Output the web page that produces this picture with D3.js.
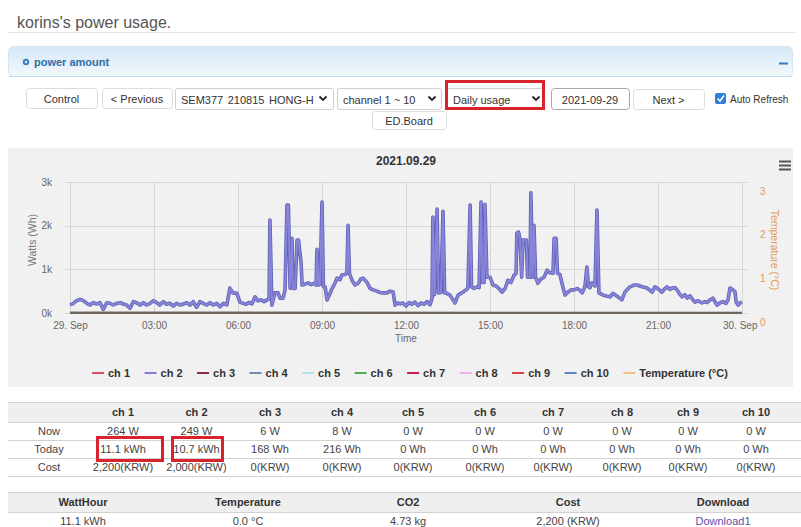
<!DOCTYPE html>
<html><head><meta charset="utf-8">
<script src="https://cdn.jsdelivr.net/npm/d3@7"></script>
<style>
html,body{margin:0;padding:0;background:#fff;}
svg{display:block;font-family:"Liberation Sans",Arial,sans-serif;}
</style></head><body>
<svg id="c" width="801" height="527"></svg>
<script>
// ---------------- data ----------------
const pageTitle = "korins's power usage.";
const panelTitle = "power amount";
const chartTitle = "2021.09.29";
const hourTicks = [0, 3, 6, 9, 12, 15, 18, 21, 24];
const hourTickLabels = ["29. Sep", "03:00", "06:00", "09:00", "12:00", "15:00", "18:00", "21:00", "30. Sep"];
const wattTicks = [0, 1000, 2000, 3000];
const wattTickLabels = ["0k", "1k", "2k", "3k"];
const tempTicks = [0, 1, 2, 3];
const legendNames = ["ch 1", "ch 2", "ch 3", "ch 4", "ch 5", "ch 6", "ch 7", "ch 8", "ch 9", "ch 10", "Temperature (°C)"];
const legendColors = ["#e0505c", "#7f7dd8", "#8b2c45", "#6f8db3", "#b3e2ea", "#4caf50", "#c8185a", "#eeb0ec", "#d9434f", "#5b86c7", "#f3c27e"];
// ch 2 power (hour of day, W)
const ch2Series = [
[0.00,183],[0.12,221],[0.24,282],[0.36,313],[0.48,282],[0.60,221],[0.71,183],[0.83,236],[0.95,206],[1.07,236],[1.19,84],[1.31,236],[1.43,221],[1.55,183],[1.67,221],[1.79,236],[1.90,206],[2.02,183],[2.14,107],[2.26,259],[2.38,236],[2.50,183],[2.62,236],[2.74,183],[2.86,221],[2.98,282],[3.10,236],[3.21,183],[3.33,259],[3.45,200],[3.57,221],[3.69,160],[3.81,221],[3.93,183],[4.05,206],[4.17,236],[4.29,183],[4.40,259],[4.52,130],[4.64,259],[4.76,221],[4.88,183],[5.00,236],[5.12,183],[5.24,221],[5.36,145],[5.48,221],[5.60,183],
[5.71,570],[5.82,460],[5.96,450],[6.07,250],[6.18,220],[6.29,200],[6.39,240],[6.50,210],[6.61,370],[6.71,280],[6.82,300],[6.93,260],[7.04,300],[7.11,330],[7.14,2130],[7.21,180],[7.32,460],[7.43,460],[7.50,340],[7.61,340],[7.68,530],[7.75,2470],[7.80,2470],[7.86,570],[7.93,1710],[7.96,560],[8.04,560],[8.11,1670],[8.16,1670],[8.25,1170],[8.29,640],[8.39,660],[8.50,690],[8.61,650],[8.71,680],[8.79,640],[8.82,1460],[8.88,640],[8.93,660],[9.00,2540],[9.05,600],[9.11,600],[9.18,300],[9.29,450],[9.36,560],[9.46,680],[9.54,800],[9.64,760],[9.71,870],[9.82,880],[9.89,910],[9.93,2010],[9.98,910],[10.07,750],[10.18,640],[10.29,680],[10.39,780],[10.46,800],[10.61,700],[10.71,570],[10.82,530],[10.96,500],[11.07,470],[11.18,460],[11.32,460],[11.43,500],[11.54,480],[11.61,180],[11.71,230],[11.79,210],
[11.89,230],[12.00,160],[12.11,240],[12.21,200],[12.32,250],[12.43,170],[12.54,230],[12.64,200],[12.75,260],[12.86,190],[12.93,340],[12.96,2200],[13.02,420],[13.11,2380],[13.16,460],[13.25,470],[13.32,2330],[13.38,460],[13.46,450],[13.57,410],[13.68,300],[13.75,230],[13.86,410],[13.96,450],[14.04,480],[14.14,530],[14.21,570],[14.29,2470],[14.34,600],[14.43,560],[14.54,600],[14.61,580],[14.68,2540],[14.73,700],[14.79,700],[14.82,2490],[14.89,820],[15.00,820],[15.11,640],[15.21,620],[15.32,560],[15.43,480],[15.54,560],[15.64,750],[15.75,700],[15.86,870],[15.93,900],[15.96,1830],[16.02,1850],[16.07,1700],[16.13,820],[16.18,1670],[16.25,1670],[16.30,1670],[16.34,820],[16.43,820],[16.46,2750],[16.52,820],[16.57,2010],[16.63,820],[16.71,680],[16.82,780],[16.93,820],[17.04,980],[17.14,920],[17.25,910],[17.29,1710],[17.36,1710],[17.41,910],[17.50,880],[17.57,680],[17.68,410],[17.79,480],[17.89,530],[18.00,530],[18.11,560],[18.21,520],[18.29,460],[18.39,600],[18.46,1050],[18.52,600],[18.57,580],[18.64,690],[18.75,620],[18.82,2360],[18.89,460],[19.04,410],[19.14,390],[19.29,370],[19.39,450],[19.50,400],[19.57,370],[19.71,300],[19.82,480],[20.00,600],[20.14,640],[20.25,640],[20.43,600],[20.61,570],[20.71,520],[20.79,480],[20.89,600],[20.96,570],[21.07,520],[21.14,480],[21.25,560],[21.32,600],[21.43,540],[21.50,570],[21.61,580],[21.68,530],[21.79,420],[21.86,370],[21.96,420],[22.04,340],[22.14,390],[22.25,300],[22.32,250],[22.43,280],[22.57,230],[22.68,260],[22.75,240],[22.86,300],[22.96,340],[23.04,250],[23.11,180],[23.21,230],[23.32,260],[23.43,220],[23.50,300],[23.57,570],[23.68,530],[23.75,480],[23.79,250],[23.86,180],[23.93,230],[24.00,250]
];
// near-zero channels (hour, W)
const ch3Series = [[0, 7], [24, 6]];
const ch4Series = [[0, 9], [24, 8]];
const tempSeries = [[0, 0], [24, 0]];

const tableChannels = ["ch 1", "ch 2", "ch 3", "ch 4", "ch 5", "ch 6", "ch 7", "ch 8", "ch 9", "ch 10"];
const rowLabels = ["Now", "Today", "Cost"];
const nowValues = ["264 W", "249 W", "6 W", "8 W", "0 W", "0 W", "0 W", "0 W", "0 W", "0 W"];
const todayValues = ["11.1 kWh", "10.7 kWh", "168 Wh", "216 Wh", "0 Wh", "0 Wh", "0 Wh", "0 Wh", "0 Wh", "0 Wh"];
const costValues = ["2,200(KRW)", "2,000(KRW)", "0(KRW)", "0(KRW)", "0(KRW)", "0(KRW)", "0(KRW)", "0(KRW)", "0(KRW)", "0(KRW)"];
const summaryHeaders = ["WattHour", "Temperature", "CO2", "Cost", "Download"];
const summaryValues = ["11.1 kWh", "0.0 °C", "4.73 kg", "2,200 (KRW)", "Download1"];

// ---------------- drawing ----------------
const svg = d3.select("#c");
const T = (sel, x, y, txt, o = {}) => sel.append("text").attr("x", x).attr("y", y)
  .attr("text-anchor", o.anchor || "start").attr("font-size", o.size || 11)
  .attr("font-weight", o.weight || "normal").attr("fill", o.fill || "#333")
  .attr("dominant-baseline", "central").text(txt);

// page title
T(svg, 17, 22, pageTitle, {size: 16, fill: "#555"});
svg.append("line").attr("x1", 8).attr("x2", 795).attr("y1", 32.5).attr("y2", 32.5).attr("stroke", "#e3e3e3");

// panel header
const defs = svg.append("defs");
const grad = defs.append("linearGradient").attr("id", "hdr").attr("x1", 0).attr("x2", 0).attr("y1", 0).attr("y2", 1);
grad.append("stop").attr("offset", "0%").attr("stop-color", "#d6e8f6");
grad.append("stop").attr("offset", "100%").attr("stop-color", "#f2f8fc");
svg.append("rect").attr("x", 8.5).attr("y", 46.5).attr("width", 784).attr("height", 30).attr("rx", 5)
  .attr("fill", "url(#hdr)").attr("stroke", "#d5e6f3");
svg.append("line").attr("x1", 9).attr("x2", 792).attr("y1", 76.5).attr("y2", 76.5).attr("stroke", "#c2daee");
svg.append("circle").attr("cx", 26).attr("cy", 62).attr("r", 3.2).attr("fill", "#3d7fbf");
svg.append("circle").attr("cx", 26).attr("cy", 62).attr("r", 1.2).attr("fill", "#dbeaf6");
T(svg, 34, 62, panelTitle, {weight: "bold", fill: "#2f6ea8", size: 11});
svg.append("line").attr("x1", 779).attr("x2", 788).attr("y1", 63.5).attr("y2", 63.5).attr("stroke", "#3a78b5").attr("stroke-width", 2);

// controls
const ctrl = svg.append("g");
function button(x1, x2, y1, y2, label, stroke) {
  ctrl.append("rect").attr("x", x1 + 0.5).attr("y", y1 + 0.5).attr("width", x2 - x1).attr("height", y2 - y1)
    .attr("rx", 3).attr("fill", "#fff").attr("stroke", stroke || "#dcdcdc");
  return T(ctrl, (x1 + x2) / 2, (y1 + y2) / 2 + 1, label, {anchor: "middle", fill: "#333"});
}
function selectBox(x1, x2, y1, y2, label, chevX) {
  ctrl.append("rect").attr("x", x1 + 0.5).attr("y", y1 + 0.5).attr("width", x2 - x1).attr("height", y2 - y1)
    .attr("rx", 2).attr("fill", "#fff").attr("stroke", "#cfcfcf");
  const t = T(ctrl, x1 + 6, (y1 + y2) / 2 + 1, label, {fill: "#333"});
  const cy = (y1 + y2) / 2;
  ctrl.append("path").attr("d", `M${chevX - 3.5},${cy - 2} L${chevX},${cy + 1.5} L${chevX + 3.5},${cy - 2}`)
    .attr("fill", "none").attr("stroke", "#222").attr("stroke-width", 1.8);
  return t;
}
button(26, 97, 88, 108, "Control");
button(102, 172, 88, 108, "< Previous");
selectBox(175, 333, 88, 109, "SEM377 210815 HONG-H", 323).attr("word-spacing", "1.5px");
selectBox(337, 441, 88, 109, "channel 1 ~ 10", 432);
selectBox(447, 543, 88, 109, "Daily usage", 536);
ctrl.append("rect").attr("x", 446.5).attr("y", 81.5).attr("width", 97).attr("height", 27)
  .attr("fill", "none").attr("stroke", "#d8232d").attr("stroke-width", 3);
button(551, 629, 88, 109, "2021-09-29", "#a8a8a8");
button(633, 704, 89, 109, "Next >");
ctrl.append("rect").attr("x", 715).attr("y", 93).attr("width", 11).attr("height", 11).attr("rx", 2).attr("fill", "#2d7fd8");
ctrl.append("path").attr("d", "M717.5,98.5 L720,101 L724,95.5").attr("fill", "none").attr("stroke", "#fff").attr("stroke-width", 1.6);
T(ctrl, 730, 99, "Auto Refresh", {fill: "#333", size: 10});
button(372, 446, 111, 129, "ED.Board");

// chart area
svg.append("rect").attr("x", 8).attr("y", 148).attr("width", 785).attr("height", 239).attr("fill", "#f1f1f1");
const x = d3.scaleLinear().domain([0, 24]).range([70, 742]);
const y = d3.scaleLinear().domain([0, 3000]).range([313, 182]);
const yT = d3.scaleLinear().domain([0, 3]).range([313, 182]);

const grid = svg.append("g").attr("stroke", "#d6d6d6").attr("stroke-width", 1);
grid.selectAll("line.h").data(wattTicks).join("line").attr("class", "h")
  .attr("x1", 65).attr("x2", 748).attr("y1", d => Math.round(y(d)) + 0.5).attr("y2", d => Math.round(y(d)) + 0.5);
grid.selectAll("line.v").data(hourTicks).join("line").attr("class", "v")
  .attr("x1", d => Math.round(x(d)) + 0.5).attr("x2", d => Math.round(x(d)) + 0.5).attr("y1", 182).attr("y2", 313);

// x axis
const gx = svg.append("g").attr("transform", "translate(0,313)")
  .call(d3.axisBottom(x).tickValues(hourTicks).tickFormat((d, i) => hourTickLabels[i]).tickSize(0).tickPadding(9));
gx.select(".domain").remove();
gx.selectAll("text").attr("fill", "#666").attr("font-size", 10).attr("font-family", "Liberation Sans, Arial, sans-serif");
gx.selectAll(".tick").filter(d => d === 24).select("text").attr("text-anchor", "end").attr("x", 15);
T(svg, 406, 338, "Time", {anchor: "middle", fill: "#666", size: 10});

// left axis
const gy = svg.append("g").attr("transform", "translate(60,0)")
  .call(d3.axisLeft(y).tickValues(wattTicks).tickFormat((d, i) => wattTickLabels[i]).tickSize(0).tickPadding(8));
gy.select(".domain").remove();
gy.selectAll("text").attr("fill", "#666").attr("font-size", 10).attr("font-family", "Liberation Sans, Arial, sans-serif");
svg.append("text").attr("transform", "translate(32,240) rotate(-90)").attr("text-anchor", "middle")
  .attr("dominant-baseline", "central").attr("font-size", 10.5).attr("fill", "#777").text("Watts (Wh)");

// right axis
const gr = svg.append("g").attr("transform", "translate(754,0)")
  .call(d3.axisRight(yT).tickValues(tempTicks).tickFormat(d3.format("d")).tickSize(0).tickPadding(6));
gr.select(".domain").remove();
gr.selectAll("text").attr("fill", "#e39a55").attr("font-size", 10).attr("transform", "translate(0,9)")
  .attr("font-family", "Liberation Sans, Arial, sans-serif");
svg.append("text").attr("transform", "translate(775,250) rotate(90)").attr("text-anchor", "middle")
  .attr("dominant-baseline", "central").attr("font-size", 10.5).attr("fill", "#e39a55").text("Temperature (°C)");

// title & menu
T(svg, 406, 161, chartTitle, {anchor: "middle", weight: "bold", size: 12, fill: "#333"});
[161.5, 165.5, 169.5].forEach(yy => svg.append("line").attr("x1", 779).attr("x2", 791).attr("y1", yy).attr("y2", yy)
  .attr("stroke", "#555").attr("stroke-width", 2));

// series
const line = d3.line().x(d => x(d[0])).y(d => y(d[1]));
const lineT = d3.line().x(d => x(d[0])).y(d => yT(d[1]));
svg.append("path").datum(ch2Series).attr("d", line).attr("fill", "none")
  .attr("stroke", "#6260b4").attr("stroke-width", 3.6).attr("stroke-linejoin", "round");
svg.append("path").datum(ch2Series).attr("d", line).attr("fill", "none")
  .attr("stroke", "#8785da").attr("stroke-width", 2).attr("stroke-linejoin", "round");
svg.append("path").datum(ch3Series).attr("d", line).attr("fill", "none").attr("stroke", "#5e564c").attr("stroke-width", 2);
svg.append("path").datum(ch4Series).attr("d", line).attr("fill", "none").attr("stroke", "#6e665a").attr("stroke-width", 1.5);
svg.append("path").datum(tempSeries).attr("d", lineT).attr("fill", "none").attr("stroke", "#6e665a").attr("stroke-width", 1);

// legend
const lg = svg.append("g");
let lx = 92;
legendNames.forEach((name, i) => {
  lg.append("line").attr("x1", lx).attr("x2", lx + 12).attr("y1", 373).attr("y2", 373)
    .attr("stroke", legendColors[i]).attr("stroke-width", 2);
  const t = T(lg, lx + 16, 373, name, {weight: "bold", size: 11, fill: "#333"});
  const w = t.node().getComputedTextLength();
  lx += 16 + w + 14.5;
});

// table 1
const t1 = svg.append("g");
const colCenters = [49, 123, 196.5, 270, 342, 413, 485, 553, 622, 688, 756];
t1.append("rect").attr("x", 8).attr("y", 402).attr("width", 793).attr("height", 20).attr("fill", "#efefef");
[402, 422, 440, 458, 476].forEach(yy => t1.append("line").attr("x1", 8).attr("x2", 801)
  .attr("y1", yy + 0.5).attr("y2", yy + 0.5).attr("stroke", "#d2d2d2"));
tableChannels.forEach((c, i) => T(t1, colCenters[i + 1], 412, c, {anchor: "middle", weight: "bold", size: 11}));
const rowsData = [nowValues, todayValues, costValues];
const rowY = [431, 449, 467];
rowLabels.forEach((r, j) => {
  T(t1, colCenters[0], rowY[j], r, {anchor: "middle", fill: "#444"});
  rowsData[j].forEach((v, i) => T(t1, colCenters[i + 1], rowY[j], v, {anchor: "middle", fill: "#444"}));
});
t1.append("rect").attr("x", 97.5).attr("y", 437.5).attr("width", 65).attr("height", 23)
  .attr("fill", "none").attr("stroke", "#d8232d").attr("stroke-width", 3);
t1.append("rect").attr("x", 172.5).attr("y", 437.5).attr("width", 50).attr("height", 23)
  .attr("fill", "none").attr("stroke", "#d8232d").attr("stroke-width", 3);

// table 2
const t2 = svg.append("g");
const sumCenters = [83, 248, 408, 568, 723];
t2.append("rect").attr("x", 8).attr("y", 492).attr("width", 793).attr("height", 20).attr("fill", "#efefef");
[492, 512].forEach(yy => t2.append("line").attr("x1", 8).attr("x2", 801)
  .attr("y1", yy + 0.5).attr("y2", yy + 0.5).attr("stroke", "#d2d2d2"));
summaryHeaders.forEach((h, i) => T(t2, sumCenters[i], 502, h, {anchor: "middle", weight: "bold", size: 11}));
summaryValues.forEach((v, i) => {
  const t = T(t2, sumCenters[i], 521, v, {anchor: "middle", fill: i === 4 ? "#5a4fa8" : "#444"});
  if (i === 4) t.attr("text-decoration", "underline");
});
</script>
</body></html>
